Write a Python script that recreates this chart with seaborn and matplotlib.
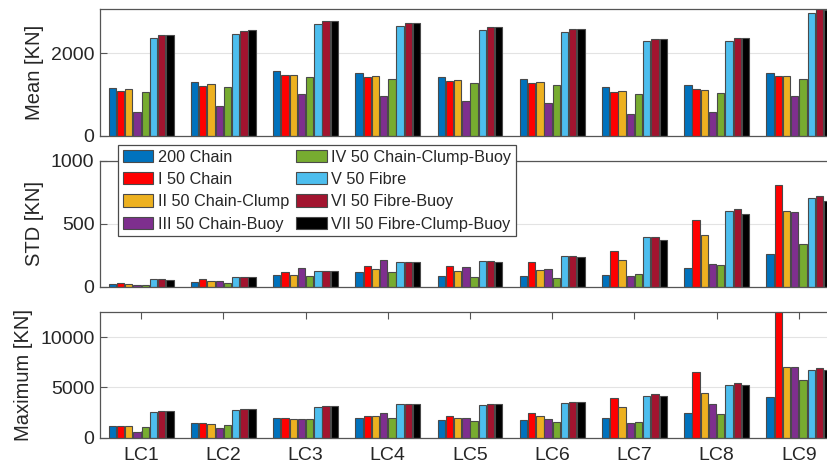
import numpy as np
import pandas as pd
import matplotlib
matplotlib.use("Agg")
import matplotlib.pyplot as plt
import seaborn as sns

load_cases = ["LC1", "LC2", "LC3", "LC4", "LC5", "LC6", "LC7", "LC8", "LC9"]
configs = ["200 Chain", "I 50 Chain", "II 50 Chain-Clump", "III 50 Chain-Buoy",
           "IV 50 Chain-Clump-Buoy", "V 50 Fibre", "VI 50 Fibre-Buoy",
           "VII 50 Fibre-Clump-Buoy"]
colors = ["#0072BD", "#FF0000", "#EDB120", "#7E2F8E", "#77AC30", "#4DBEEE",
          "#A2142F", "#000000"]

# Mean [KN], one row per configuration, one value per load case
mean_values = [
    [1166, 1296, 1563, 1522, 1425, 1385, 1182, 1223, 1514],
    [1093, 1215, 1466, 1425, 1328, 1279, 1061, 1125, 1457],
    [1125, 1247, 1482, 1441, 1344, 1296, 1077, 1109, 1441],
    [575, 721, 1012, 964, 834, 785, 534, 567, 955],
    [1061, 1182, 1425, 1385, 1287, 1231, 1012, 1045, 1368],
    [2364, 2478, 2704, 2664, 2567, 2526, 2291, 2300, 2988],
    [2437, 2543, 2777, 2729, 2640, 2591, 2348, 2364, 3100],
    [2445, 2559, 2785, 2745, 2648, 2599, 2356, 2381, 3060],
]
# STD [KN]
std_values = [
    [18, 37, 92, 113, 84, 82, 89, 150, 261],
    [32, 58, 113, 161, 163, 195, 284, 529, 811],
    [24, 42, 95, 139, 121, 132, 213, 411, 600],
    [13, 45, 147, 208, 155, 139, 84, 182, 595],
    [13, 26, 84, 113, 76, 71, 97, 174, 339],
    [58, 76, 126, 200, 203, 245, 392, 603, 705],
    [58, 79, 126, 195, 203, 247, 397, 616, 718],
    [53, 76, 126, 195, 195, 237, 374, 579, 682],
]
# Maximum [KN]
max_values = [
    [1192, 1424, 1921, 1987, 1788, 1788, 1921, 2417, 4007],
    [1192, 1424, 1921, 2152, 2185, 2450, 3974, 6523, 13000],
    [1192, 1391, 1887, 2119, 1954, 2152, 3079, 4437, 7053],
    [596, 927, 1821, 2450, 1954, 1854, 1424, 3311, 7053],
    [1093, 1258, 1821, 1921, 1689, 1589, 1589, 2384, 5762],
    [2550, 2748, 3079, 3311, 3278, 3444, 4172, 5232, 6755],
    [2616, 2848, 3179, 3344, 3344, 3543, 4305, 5397, 6887],
    [2616, 2848, 3179, 3344, 3344, 3510, 4172, 5232, 6722],
]


def to_frame(values):
    rows = []
    for cfg, vals in zip(configs, values):
        for lc, v in zip(load_cases, vals):
            rows.append({"LC": lc, "Config": cfg, "value": v})
    return pd.DataFrame(rows)


sns.set_style("white")
plt.rcParams["font.family"] = ["Liberation Sans", "DejaVu Sans"]

fig = plt.figure(figsize=(8.28, 4.70), dpi=100)
W, H = 828.0, 470.0
left = 100.0 / W
width = 740.0 / W
panels = [
    (9.0, 135.7, mean_values, "Mean [KN]", 3080, [0, 2000]),
    (160.7, 286.7, std_values, "STD [KN]", 1000, [0, 500, 1000]),
    (311.7, 437.7, max_values, "Maximum [KN]", 12520, [0, 5000, 10000]),
]
spine_col = "#555555"
axes = []
for i, (ytop, ybot, vals, ylab, ymax, yticks) in enumerate(panels):
    ax = fig.add_axes([left, (H - ybot) / H, width, (ybot - ytop) / H])
    df = to_frame(vals)
    sns.barplot(data=df, x="LC", y="value", hue="Config", order=load_cases,
                hue_order=configs, palette=colors, saturation=1,
                width=0.8, gap=0.12,
                edgecolor="#4a4a4a", linewidth=0.8, errorbar=None,
                legend=(i == 1), ax=ax, zorder=2)
    ax.set_xlim(-0.5, 8.5)
    ax.set_ylim(0, ymax)
    ax.set_yticks(yticks)
    ax.set_xlabel("")
    ax.set_ylabel(ylab, fontsize=14.5, color="#262626", labelpad=5)
    ax.set_axisbelow(True)
    ax.yaxis.grid(True, color="#e3e3e3", linewidth=0.8, zorder=0)
    ax.xaxis.grid(False)
    for s in ["left", "bottom", "top"]:
        ax.spines[s].set_visible(True)
        ax.spines[s].set_color(spine_col)
        ax.spines[s].set_linewidth(0.9)
    ax.spines["right"].set_visible(False)
    ax.tick_params(axis="y", direction="in", length=5, width=0.8,
                   color=spine_col, labelsize=14, labelcolor="#262626", pad=4,
                   left=True)
    if i == 2:
        ax.tick_params(axis="x", direction="in", length=5, width=0.8,
                       color=spine_col, labelsize=14, labelcolor="#262626",
                       pad=7, bottom=True, top=True)
    else:
        ax.tick_params(axis="x", bottom=False, top=False, labelbottom=False)
    axes.append(ax)

sns.move_legend(axes[1], "upper left",
                bbox_to_anchor=(117.7 / W, 1 - 144.7 / H),
                bbox_transform=fig.transFigure, ncol=2, title=None,
                frameon=True, fancybox=False, framealpha=1,
                edgecolor="#4a4a4a", fontsize=11.7, borderpad=0.3,
                labelspacing=0.45, handlelength=1.9, handleheight=0.8,
                handletextpad=0.25, columnspacing=0.45, borderaxespad=0)
axes[1].get_legend().get_frame().set_linewidth(0.9)
axes[1].get_legend().set_zorder(10)

fig.savefig("out.png", dpi=100)
